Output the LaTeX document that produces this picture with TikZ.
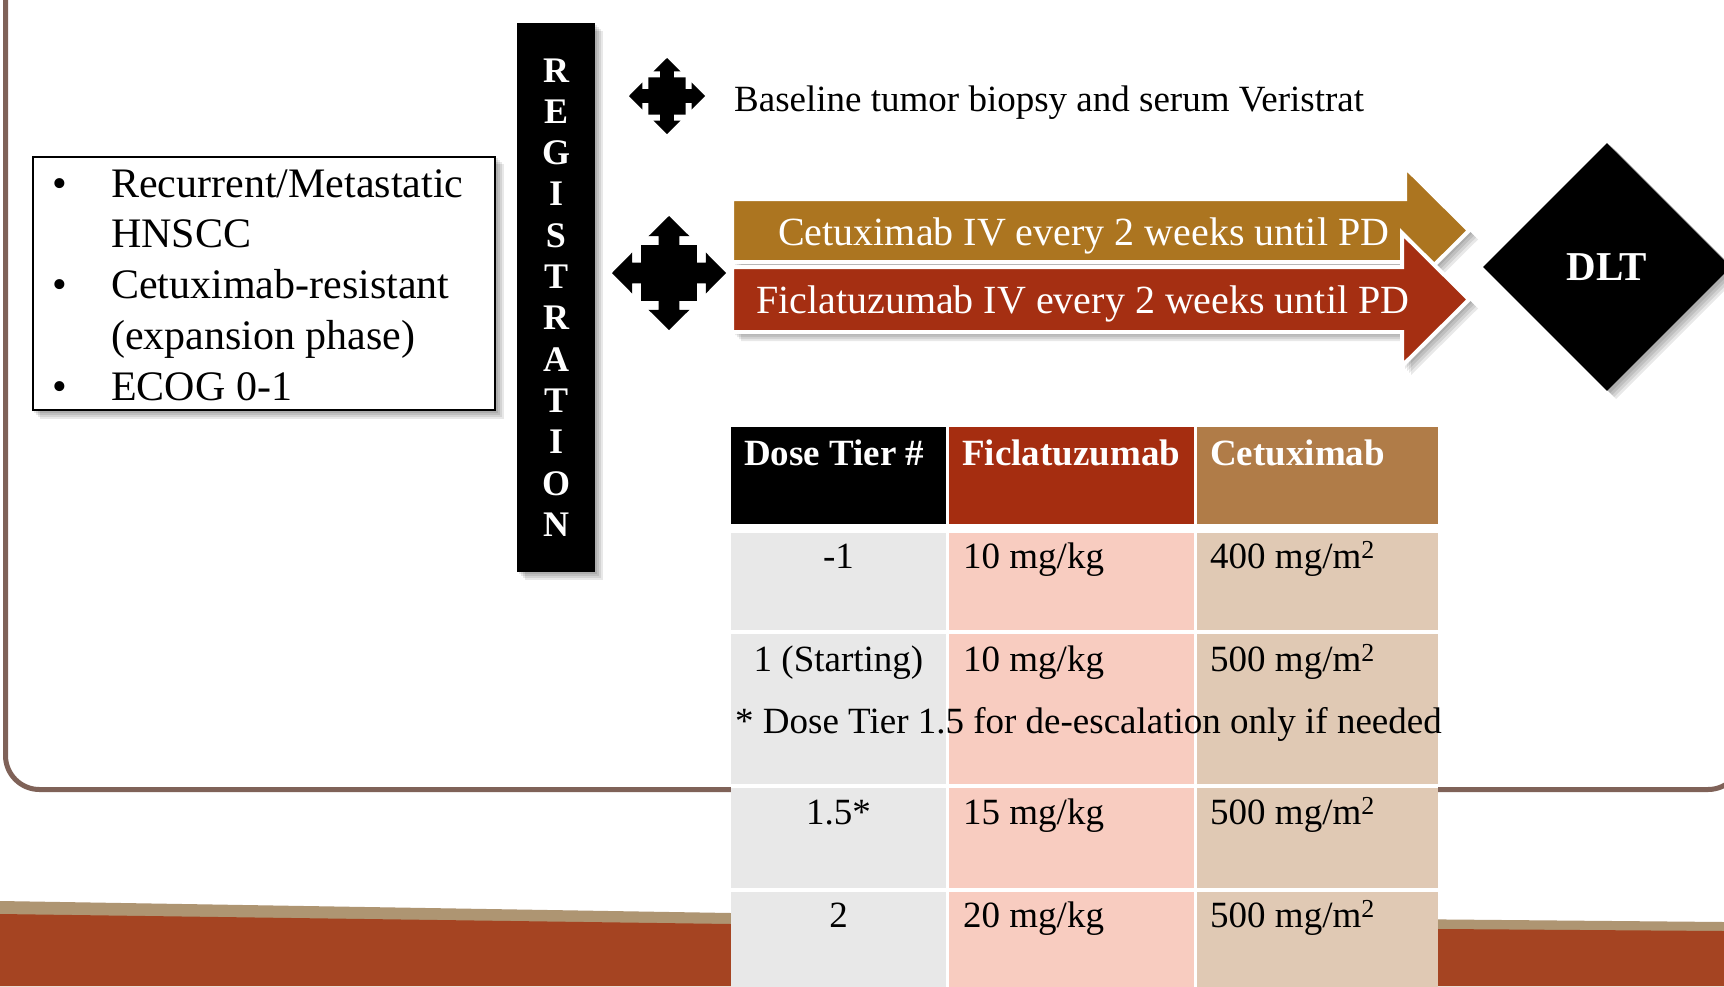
\documentclass[tikz,border=0pt]{standalone}
\usepackage{fontspec}
\setmainfont{Liberation Serif}
\usetikzlibrary{shapes.geometric}
\definecolor{framecol}{HTML}{7F6258}
\definecolor{tanband}{HTML}{AE9572}
\definecolor{redband}{HTML}{A54422}
\definecolor{goldarrow}{HTML}{AC7520}
\definecolor{redarrow}{HTML}{A52F12}
\definecolor{hdrred}{HTML}{A52D10}
\definecolor{hdrtan}{HTML}{B07C48}
\definecolor{cellgray}{HTML}{E8E8E8}
\definecolor{cellpink}{HTML}{F8CCC0}
\definecolor{cellbeige}{HTML}{E0C9B4}
\tikzset{
  txt/.style={inner sep=0pt, anchor=base west, font=\fontsize{37}{44}\selectfont},
  crittxt/.style={inner sep=0pt, anchor=base west, font=\fontsize{42}{50}\selectfont},
  bullettxt/.style={inner sep=0pt, anchor=base, font=\fontsize{42}{50}\selectfont},
  arrowtxt/.style={inner sep=0pt, anchor=base west, text=white, font=\fontsize{40}{48}\selectfont},
  regletter/.style={inner sep=0pt, anchor=base, text=white, font=\bfseries\fontsize{36}{41}\selectfont},
  hdrtxt/.style={inner sep=0pt, anchor=base west, text=white, font=\bfseries\fontsize{37}{44}\selectfont},
  celltxt/.style={inner sep=0pt, anchor=base west, font=\fontsize{37}{44}\selectfont},
  celltxtc/.style={inner sep=0pt, anchor=base, font=\fontsize{37}{44}\selectfont},
  softshadow/.style={fill=black, opacity=0.09},
  quad/.pic={
    \fill[black] (0,1) -- (0.36,0.645) -- (0.18,0.645) -- (0.18,0.49) -- (0.49,0.49) -- (0.49,0.18)
      -- (0.645,0.18) -- (0.645,0.36) -- (1,0) -- (0.645,-0.36) -- (0.645,-0.18) -- (0.49,-0.18)
      -- (0.49,-0.49) -- (0.18,-0.49) -- (0.18,-0.645) -- (0.36,-0.645) -- (0,-1) -- (-0.36,-0.645)
      -- (-0.18,-0.645) -- (-0.18,-0.49) -- (-0.49,-0.49) -- (-0.49,-0.18) -- (-0.645,-0.18)
      -- (-0.645,-0.36) -- (-1,0) -- (-0.645,0.36) -- (-0.645,0.18) -- (-0.49,0.18) -- (-0.49,0.49)
      -- (-0.18,0.49) -- (-0.18,0.645) -- (-0.36,0.645) -- cycle;
  }
}
\begin{document}
\begin{tikzpicture}[x=1pt,y=-1pt]
\useasboundingbox (0,0) rectangle (1724,986);
\clip (0,0) rectangle (1724,986);
\fill[white] (0,0) rectangle (1724,986);

% outer rounded frame
\draw[framecol, line width=5pt, rounded corners=34pt] (5.5,-80) rectangle (1742,789.5);

% bottom band
\fill[tanband] (0,901) -- (731,913) -- (1724,922) -- (1724,986) -- (0,986) -- cycle;
\fill[redband] (0,914) -- (731,924) -- (1724,931) -- (1724,986) -- (0,986) -- cycle;

% criteria box
\foreach \d in {2,4,6,8} {\fill[softshadow] (31.5+\d,156+\d) rectangle (495.5+\d,411+\d);}
\node[draw=black, fill=white, line width=2pt, minimum width=462, minimum height=253, inner sep=0pt] (crit) at (263.5,283.5) {};
\node[bullettxt] (b1) at (60,197) {•};
\node[bullettxt] (b2) at (60,298) {•};
\node[bullettxt] (b3) at (60,400) {•};
\node[crittxt] (c1) at (111,197) {Recurrent/Metastatic};
\node[crittxt] (c2) at (111,247) {HNSCC};
\node[crittxt] (c3) at (111,298) {Cetuximab-resistant};
\node[crittxt] (c4) at (111,349) {(expansion phase)};
\node[crittxt] (c5) at (111,400) {ECOG 0-1};

% registration bar
\foreach \d in {2,4,6,8} {\fill[softshadow] (517+\d,23+\d) rectangle (595+\d,572+\d);}
\node[fill=black, minimum width=78, minimum height=549, inner sep=0pt] (reg) at (556,297.5) {};
\foreach \l [count=\i from 0] in {R,E,G,I,S,T,R,A,T,I,O,N}
  \node[regletter] (r\i) at (556,{82+41.3*\i}) {\l};

% quad arrows
\path (667,96) pic[scale=38] {quad};
\path (669,273) pic[scale=57] {quad};

% baseline text
\node[txt] (base) at (734,111) {Baseline tumor biopsy and serum Veristrat};

% treatment arrows: shadows
\foreach \d in {3,5,7,9} {
  \fill[softshadow] (732+\d,199+\d) -- (1405+\d,199+\d) -- (1405+\d,167+\d) -- (1469+\d,230.5+\d) -- (1405+\d,294+\d) -- (1405+\d,262+\d) -- (732+\d,262+\d) -- cycle;
  \fill[softshadow] (732+\d,267+\d) -- (1402+\d,267+\d) -- (1402+\d,233+\d) -- (1469+\d,299.5+\d) -- (1402+\d,366+\d) -- (1402+\d,332+\d) -- (732+\d,332+\d) -- cycle;
}
\filldraw[fill=goldarrow, draw=white, line width=4pt, line join=miter] (732,199) -- (1405,199) -- (1405,167) -- (1469,230.5) -- (1405,294) -- (1405,262) -- (732,262) -- cycle;
\filldraw[fill=redarrow, draw=white, line width=4pt, line join=miter] (732,267) -- (1402,267) -- (1402,233) -- (1469,299.5) -- (1402,366) -- (1402,332) -- (732,332) -- cycle;
\node[arrowtxt] (cetarrow) at (778,245) {Cetuximab IV every 2 weeks until PD};
\node[arrowtxt] (ficarrow) at (756,313) {Ficlatuzumab IV every 2 weeks until PD};

% DLT diamond
\foreach \d in {3,5,7,9} {\fill[softshadow] (1607+\d,142+\d) -- (1731+\d,266+\d) -- (1607+\d,390+\d) -- (1483+\d,266+\d) -- cycle;}
\node[diamond, fill=black, minimum width=248, minimum height=248, inner sep=0pt, text=white, font=\bfseries\fontsize{41}{48}\selectfont] (dlt) at (1607,267) {DLT};

% table
\fill[white] (731,427) rectangle (1438,990);
\fill[black] (731,427) rectangle (946,524);
\fill[hdrred] (949,427) rectangle (1194,524);
\fill[hdrtan] (1197,427) rectangle (1438,524);
\foreach \ya/\yb in {533/630, 634/784, 788/888, 892/990} {
  \fill[cellgray] (731,\ya) rectangle (946,\yb);
  \fill[cellpink] (949,\ya) rectangle (1194,\yb);
  \fill[cellbeige] (1197,\ya) rectangle (1438,\yb);
}
\node[hdrtxt] (h1) at (744,465) {Dose Tier \#};
\node[hdrtxt] (h2) at (962,465) {Ficlatuzumab};
\node[hdrtxt] (h3) at (1210,465) {Cetuximab};

\node[celltxtc] (t1) at (838.5,568) {-1};
\node[celltxt] (f1) at (963,568) {10 mg/kg};
\node[celltxt] (e1) at (1210,568) {400 mg/m\textsuperscript{2}};

\node[celltxtc] (t2) at (838.5,671) {1 (Starting)};
\node[celltxt] (f2) at (963,671) {10 mg/kg};
\node[celltxt] (e2) at (1210,671) {500 mg/m\textsuperscript{2}};
\node[celltxt] (note) at (735,733) {* Dose Tier 1.5 for de-escalation only if needed};

\node[celltxtc] (t3) at (838.5,824) {1.5*};
\node[celltxt] (f3) at (963,824) {15 mg/kg};
\node[celltxt] (e3) at (1210,824) {500 mg/m\textsuperscript{2}};

\node[celltxtc] (t4) at (838.5,927) {2};
\node[celltxt] (f4) at (963,927) {20 mg/kg};
\node[celltxt] (e4) at (1210,927) {500 mg/m\textsuperscript{2}};
\end{tikzpicture}
\end{document}
